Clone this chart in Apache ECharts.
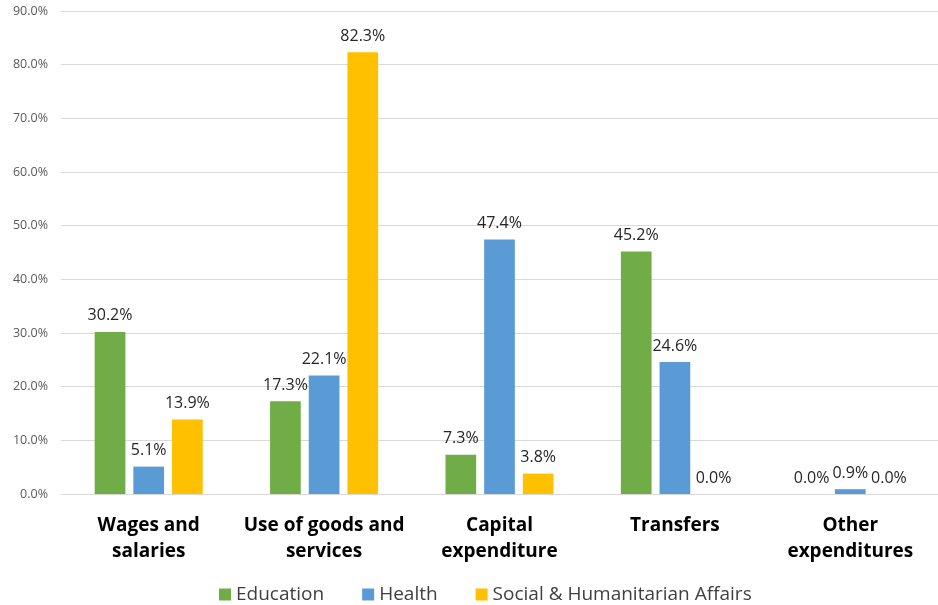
<!DOCTYPE html>
<html><head><meta charset="utf-8">
<script src="https://cdn.jsdelivr.net/npm/echarts@6/dist/echarts.min.js"></script>
<style>html,body{margin:0;padding:0;background:#fff}#c{width:938px;height:605px}</style>
</head><body><div id="c"></div>
<script>
const categories = ['Wages and\nsalaries', 'Use of goods and\nservices', 'Capital\nexpenditure', 'Transfers', 'Other\nexpenditures'];
const education = [30.2, 17.3, 7.3, 45.2, 0.0];
const health = [5.1, 22.1, 47.4, 24.6, 0.9];
const social = [13.9, 82.3, 3.8, 0.0, 0.0];
const yTicks = [0, 10, 20, 30, 40, 50, 60, 70, 80, 90];

const font = "'Open Sans', 'Noto Sans', sans-serif";
const chart = echarts.init(document.getElementById('c'));
const lbl = {show:true, position:'top', distance:8, color:'#262626', fontSize:16, fontFamily:font,
  formatter: p => p.value.toFixed(1) + '%'};
function s(name, data, color){
  return {name, type:'bar', data, barWidth:'17.5%', barGap:'26%', itemStyle:{color}, label:lbl};
}
chart.setOption({
  animation:false,
  textStyle:{fontFamily:font},
  grid:{left:61, right:-2, top:11, bottom:111, containLabel:false},
  legend:{bottom:-4, left:214, itemWidth:12, itemHeight:12, itemGap:38, icon:'rect',
    textStyle:{fontSize:19, color:'#404040', fontFamily:font}},
  xAxis:{type:'category', data:categories,
    axisLine:{lineStyle:{color:'#d9d9d9', width:1}}, axisTick:{show:false},
    axisLabel:{fontSize:19, fontWeight:'bold', color:'#000', lineHeight:26, margin:19, fontFamily:font, interval:0}},
  yAxis:{type:'value', min:yTicks[0], max:yTicks[yTicks.length-1], interval:10,
    axisLabel:{formatter:v=>v.toFixed(1)+'%', fontSize:12.5, color:'#595959', margin:13, fontFamily:font},
    splitLine:{lineStyle:{color:'#d9d9d9'}}, axisLine:{show:false}, axisTick:{show:false}},
  series:[s('Education', education, '#70AD47'), s('Health', health, '#5B9BD5'), s('Social & Humanitarian Affairs', social, '#FFC000')]
});
</script></body></html>
